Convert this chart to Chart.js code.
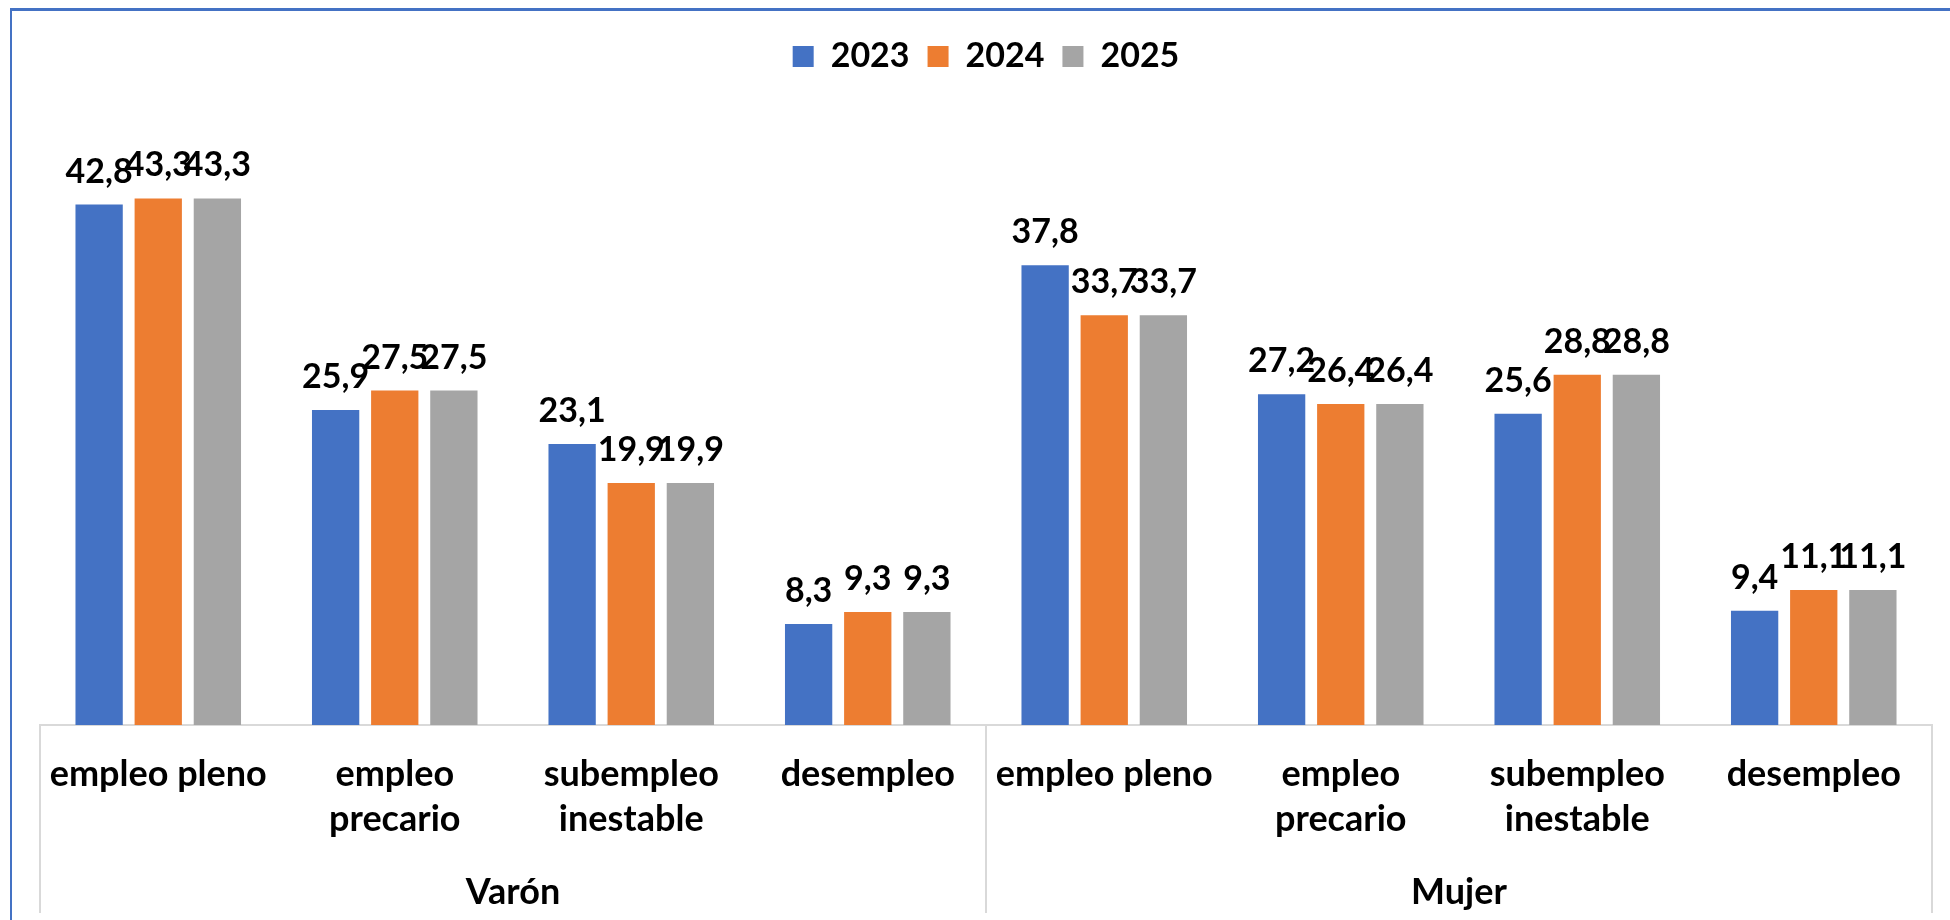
<!DOCTYPE html>
<html>
<head>
<meta charset="utf-8">
<script src="https://cdn.jsdelivr.net/npm/chart.js@4"></script>
<style>
  html, body { margin: 0; padding: 0; background: #fff; }
  #wrap { position: relative; width: 1950px; height: 920px; overflow: hidden; background: #fff; }
  #frame { position: absolute; left: 10px; top: 8px; width: 2000px; height: 1000px;
           border-left: 2px solid #4472C4; border-top: 3px solid #4472C4; pointer-events: none; }
</style>
</head>
<body>
<div id="wrap">
  <canvas id="c" width="1950" height="920"></canvas>
  <div id="frame"></div>
</div>
<script>
// ---- data ----
const categories = [
  ['empleo pleno'], ['empleo', 'precario'], ['subempleo', 'inestable'], ['desempleo'],
  ['empleo pleno'], ['empleo', 'precario'], ['subempleo', 'inestable'], ['desempleo']
];
const groups = ['Varón', 'Mujer'];
const seriesNames = ['2023', '2024', '2025'];
const values2023 = [42.8, 25.9, 23.1, 8.3, 37.8, 27.2, 25.6, 9.4];
const values2024 = [43.3, 27.5, 19.9, 9.3, 33.7, 26.4, 28.8, 11.1];
const values2025 = [43.3, 27.5, 19.9, 9.3, 33.7, 26.4, 28.8, 11.1];
const colors = ['#4472C4', '#ED7D31', '#A5A5A5'];

const FONT = 'Lato';
Chart.defaults.font.family = FONT;
Chart.defaults.color = '#000';

const valueLabels = {
  id: 'valueLabels',
  afterDatasetsDraw(chart) {
    const ctx = chart.ctx;
    ctx.save();
    ctx.font = 'bold 34px ' + FONT;
    ctx.fillStyle = '#000';
    ctx.textAlign = 'center';
    ctx.textBaseline = 'alphabetic';
    chart.data.datasets.forEach((ds, di) => {
      const meta = chart.getDatasetMeta(di);
      meta.data.forEach((bar, i) => {
        const txt = ds.data[i].toFixed(1).replace('.', ',');
        ctx.fillText(txt, bar.x, bar.y - 22);
      });
    });
    ctx.restore();
  }
};

const sets = [values2023, values2024, values2025];
new Chart(document.getElementById('c'), {
  type: 'bar',
  data: {
    labels: categories,
    datasets: sets.map((d, i) => ({
      label: seriesNames[i],
      data: d,
      backgroundColor: colors[i],
      borderWidth: 0,
      categoryPercentage: 0.75,
      barPercentage: 0.8
    }))
  },
  options: {
    responsive: false,
    animation: false,
    layout: { padding: { left: 40, right: 18, top: 21.5, bottom: 0 } },
    plugins: {
      legend: {
        position: 'top',
        labels: {
          boxWidth: 21, boxHeight: 21, padding: 18,
          color: '#000',
          font: { size: 34, weight: 'bold', family: FONT }
        }
      },
      title: {
        display: true, text: '', weight: 500, padding: 0,
        font: { size: 30, lineHeight: '33.5px' }
      },
      tooltip: { enabled: false }
    },
    scales: {
      y: { display: false, min: 0, max: 50 },
      x: {
        position: 'bottom',
        offset: true,
        border: { display: true, color: '#D9D9D9', width: 2 },
        grid: {
          display: true, offset: true, drawOnChartArea: false, drawTicks: true,
          tickLength: 188, lineWidth: 2,
          color: (c) => (c.type !== 'tick' || c.index % 4 === 0) ? '#D9D9D9' : 'rgba(0,0,0,0)'
        },
        ticks: {
          autoSkip: false, maxRotation: 0, minRotation: 0,
          padding: -161.5, color: '#000',
          font: { size: 36, weight: 'bold', family: FONT, lineHeight: '45px' }
        },
        afterFit: (s) => { s.height = 125; }
      },
      x2: {
        type: 'category',
        labels: groups,
        position: 'bottom',
        weight: 1,
        offset: true,
        border: { display: false },
        grid: { display: false, drawTicks: false, tickLength: 0 },
        ticks: {
          autoSkip: false, maxRotation: 0, minRotation: 0,
          padding: 21, color: '#000',
          font: { size: 36, weight: 'bold', family: FONT, lineHeight: 1.2 }
        },
        afterFit: (s) => { s.height = 70; }
      }
    }
  },
  plugins: [valueLabels]
});
</script>
</body>
</html>
